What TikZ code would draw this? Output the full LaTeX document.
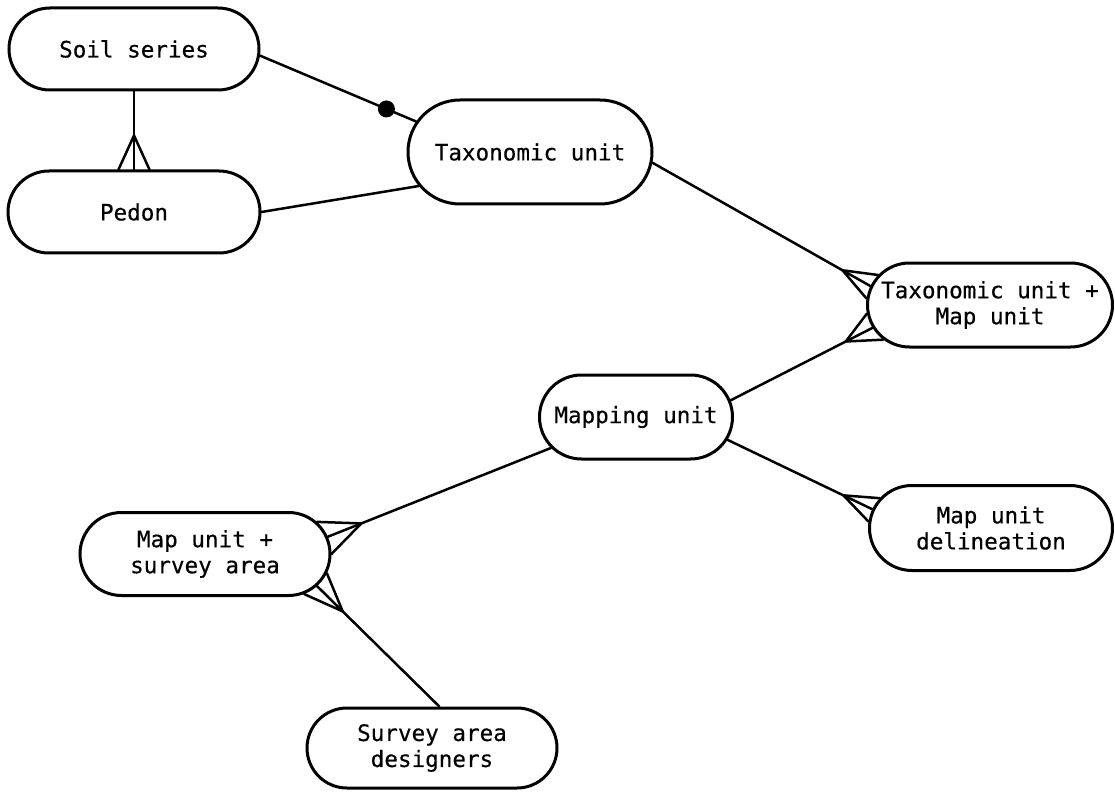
\documentclass[tikz,border=0pt]{standalone}
\usepackage{fontspec}
\setmonofont{DejaVu Sans Mono}[FakeBold=0.4]
\usetikzlibrary{shapes.misc,calc}
% #1 from node, #2 its angle, #3 to node (crow's foot end), #4 middle toe angle, #5 #6 outer toe angles, #7 foot length
\newcommand{\crowlink}[7]{%
  \draw[link] (#1.#2) -- ($(#3.#4)!#7!(#1.#2)$) coordinate (apex);
  \draw[link] (#3.#5) -- (apex) -- (#3.#6);
  \draw[link] (apex) -- (#3.#4);
}
\begin{document}
\begin{tikzpicture}[x=0.5pt,y=-0.5pt,
  box/.style={rounded rectangle, draw, line width=1.5pt,
    font=\ttfamily\fontsize{11.3}{13}\selectfont, align=center, inner sep=0pt},
  link/.style={line width=1.25pt, line cap=round, line join=round},
  dotmark/.style={circle, fill, inner sep=0pt, minimum size=8.5pt}]
\useasboundingbox (0,0) rectangle (1115,792);
\fill[white] (0,0) rectangle (1115,792);

\node[box, minimum width=125pt, minimum height=41pt] (ss) at (134,49) {Soil series};
\node[box, minimum width=126pt, minimum height=41pt] (pd) at (134,212) {Pedon};
\node[box, minimum width=122pt, minimum height=52pt] (tu) at (530,152) {Taxonomic unit};
\node[box, minimum width=122.5pt, minimum height=42pt] (tm) at (990,305) {Taxonomic unit +\\Map unit};
\node[box, minimum width=96.5pt, minimum height=42pt] (mu) at (636,417) {Mapping unit};
\node[box, minimum width=121.5pt, minimum height=42.5pt] (md) at (991,528) {Map unit\\delineation};
\node[box, minimum width=125pt, minimum height=41.5pt] (ms) at (205,554) {Map unit +\\survey area};
\node[box, minimum width=125pt, minimum height=40pt] (sd) at (432,748) {Survey area\\designers};

% Soil series -- Taxonomic unit, with dot
\draw[link] (ss.-3) -- (tu.165) node[dotmark, pos=0.81] (d1) {};
% Pedon -- Taxonomic unit
\draw[link] (pd.0) -- (tu.197);
% Soil series -- Pedon (many)
\crowlink{ss}{south}{pd}{90}{70}{110}{17pt}
% Taxonomic unit -- TU+MU
\crowlink{tu}{-5}{tm}{171}{165}{177}{16pt}
% Mapping unit -- TU+MU
\crowlink{mu}{10}{tm}{191}{184}{198}{15pt}
% Mapping unit -- Map unit delineation
\crowlink{mu}{-14}{md}{171}{165}{177}{16pt}
% Mapping unit -- Map unit + survey area
\crowlink{mu}{200}{ms}{8}{0}{16}{18pt}
% Survey area designers -- Map unit + survey area
\crowlink{sd}{80}{ms}{-16}{-9}{-22}{18pt}
\end{tikzpicture}
\end{document}
